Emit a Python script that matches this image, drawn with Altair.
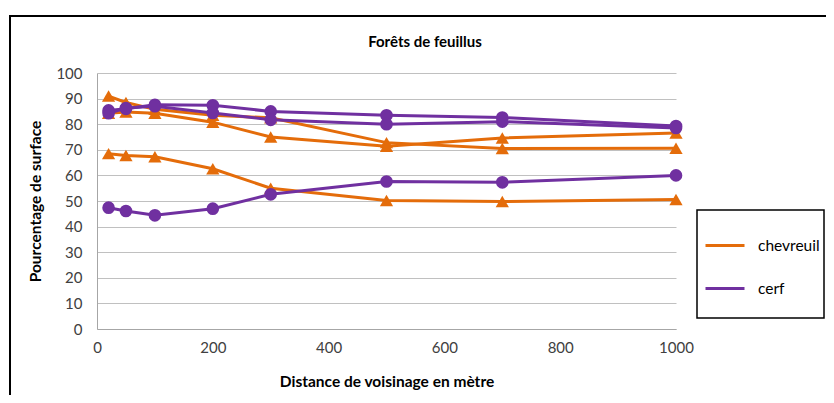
import altair as alt
import pandas as pd

distances = [20, 50, 100, 200, 300, 500, 700, 1000]
chevreuil_1 = [91.0, 88.5, 85.8, 83.5, 82.5, 72.8, 70.5, 70.6]
chevreuil_2 = [84.3, 84.8, 84.3, 80.8, 75.0, 71.4, 74.6, 76.6]
chevreuil_3 = [68.5, 67.8, 67.3, 62.6, 55.0, 50.2, 49.8, 50.6]
cerf_1 = [85.4, 86.0, 87.6, 87.4, 85.0, 83.5, 82.6, 79.3]
cerf_2 = [84.3, 86.3, 87.0, 84.4, 81.7, 80.0, 81.0, 78.5]
cerf_3 = [47.4, 46.1, 44.4, 47.0, 52.6, 57.6, 57.3, 60.0]

species = ["chevreuil", "cerf"]
colors = ["#E46C0A", "#7030A0"]
shapes = ["triangle-up", "circle"]
marker_sizes = [175, 160]
title_text = ["Forêts de feuillus"]

series = [
    ("chevreuil", "c1", chevreuil_1),
    ("chevreuil", "c2", chevreuil_2),
    ("chevreuil", "c3", chevreuil_3),
    ("cerf", "f1", cerf_1),
    ("cerf", "f2", cerf_2),
    ("cerf", "f3", cerf_3),
]
rows = []
for sp, sid, vals in series:
    for d, v in zip(distances, vals):
        rows.append({"espece": sp, "serie": sid, "distance": d, "pct": v})
df = pd.DataFrame(rows)

FONT = "Lato"
W, H = 579, 256

x = alt.X("distance:Q", scale=alt.Scale(domain=[0, 1000], nice=False),
          axis=alt.Axis(title="Distance de voisinage en mètre", values=[0, 200, 400, 600, 800, 1000],
                        format="d", grid=False, ticks=False, domainColor="#a6a6a6", labelPadding=11,
                        labelFlush=False, labelOverlap=False,
                        titlePadding=19, labelFontSize=15, titleFontSize=15.5,
                        titleFontWeight="bold", labelColor="#404040", titleColor="#000000"))
y = alt.Y("pct:Q", scale=alt.Scale(domain=[0, 100], nice=False),
          axis=alt.Axis(title="Pourcentage de surface", values=list(range(0, 101, 10)),
                        grid=True, gridColor="#c0c0c0", gridWidth=1, ticks=False,
                        domainColor="#a6a6a6", labelPadding=15, titlePadding=12,
                        labelFontSize=15, titleFontSize=15.5, titleFontWeight="bold",
                        labelColor="#404040", titleColor="#000000"))
color = alt.Color("espece:N", scale=alt.Scale(domain=species, range=colors),
                  legend=alt.Legend(title=None, orient="none", legendX=607, legendY=151.5,
                                    symbolType="stroke", symbolSize=1521, symbolStrokeWidth=3,
                                    labelFontSize=15.5, labelOffset=12, rowPadding=13,
                                    padding=0, labelColor="#000000"))

base = alt.Chart(df)
layers = []
for sp, shp, sz in zip(species, shapes, marker_sizes):
    sub = base.transform_filter(alt.datum.espece == sp)
    layers.append(sub.mark_line(strokeWidth=3).encode(x=x, y=y, color=color, detail="serie:N"))
    layers.append(sub.mark_point(filled=True, opacity=1, size=sz, shape=shp).encode(
        x=x, y=y, color=color, detail="serie:N"))

frame_df = pd.DataFrame({"k": [0]})
outer = alt.Chart(frame_df).mark_rect(fill=None, stroke="#000000", strokeWidth=2).encode(
    x=alt.value(-87), x2=alt.value(800), y=alt.value(-57), y2=alt.value(400))
legend_box = alt.Chart(frame_df).mark_rect(fill=None, stroke="#000000", strokeWidth=1.5).encode(
    x=alt.value(600), x2=alt.value(727), y=alt.value(137), y2=alt.value(245))
title_mark = alt.Chart(pd.DataFrame({"t": title_text})).mark_text(
    font=FONT, fontSize=15, fontWeight="bold", color="#000000", align="center", baseline="middle"
).encode(text="t:N", x=alt.value(328), y=alt.value(-31))

chart = alt.layer(outer, *layers, legend_box, title_mark).properties(
    width=W, height=H,
    padding={"left": 89, "top": 65, "right": 150, "bottom": 66},
    autosize=alt.AutoSizeParams(type="none"),
).configure(font=FONT).configure_view(stroke=None)

chart.save("out.html", embed_options={"renderer": "svg", "actions": False})
